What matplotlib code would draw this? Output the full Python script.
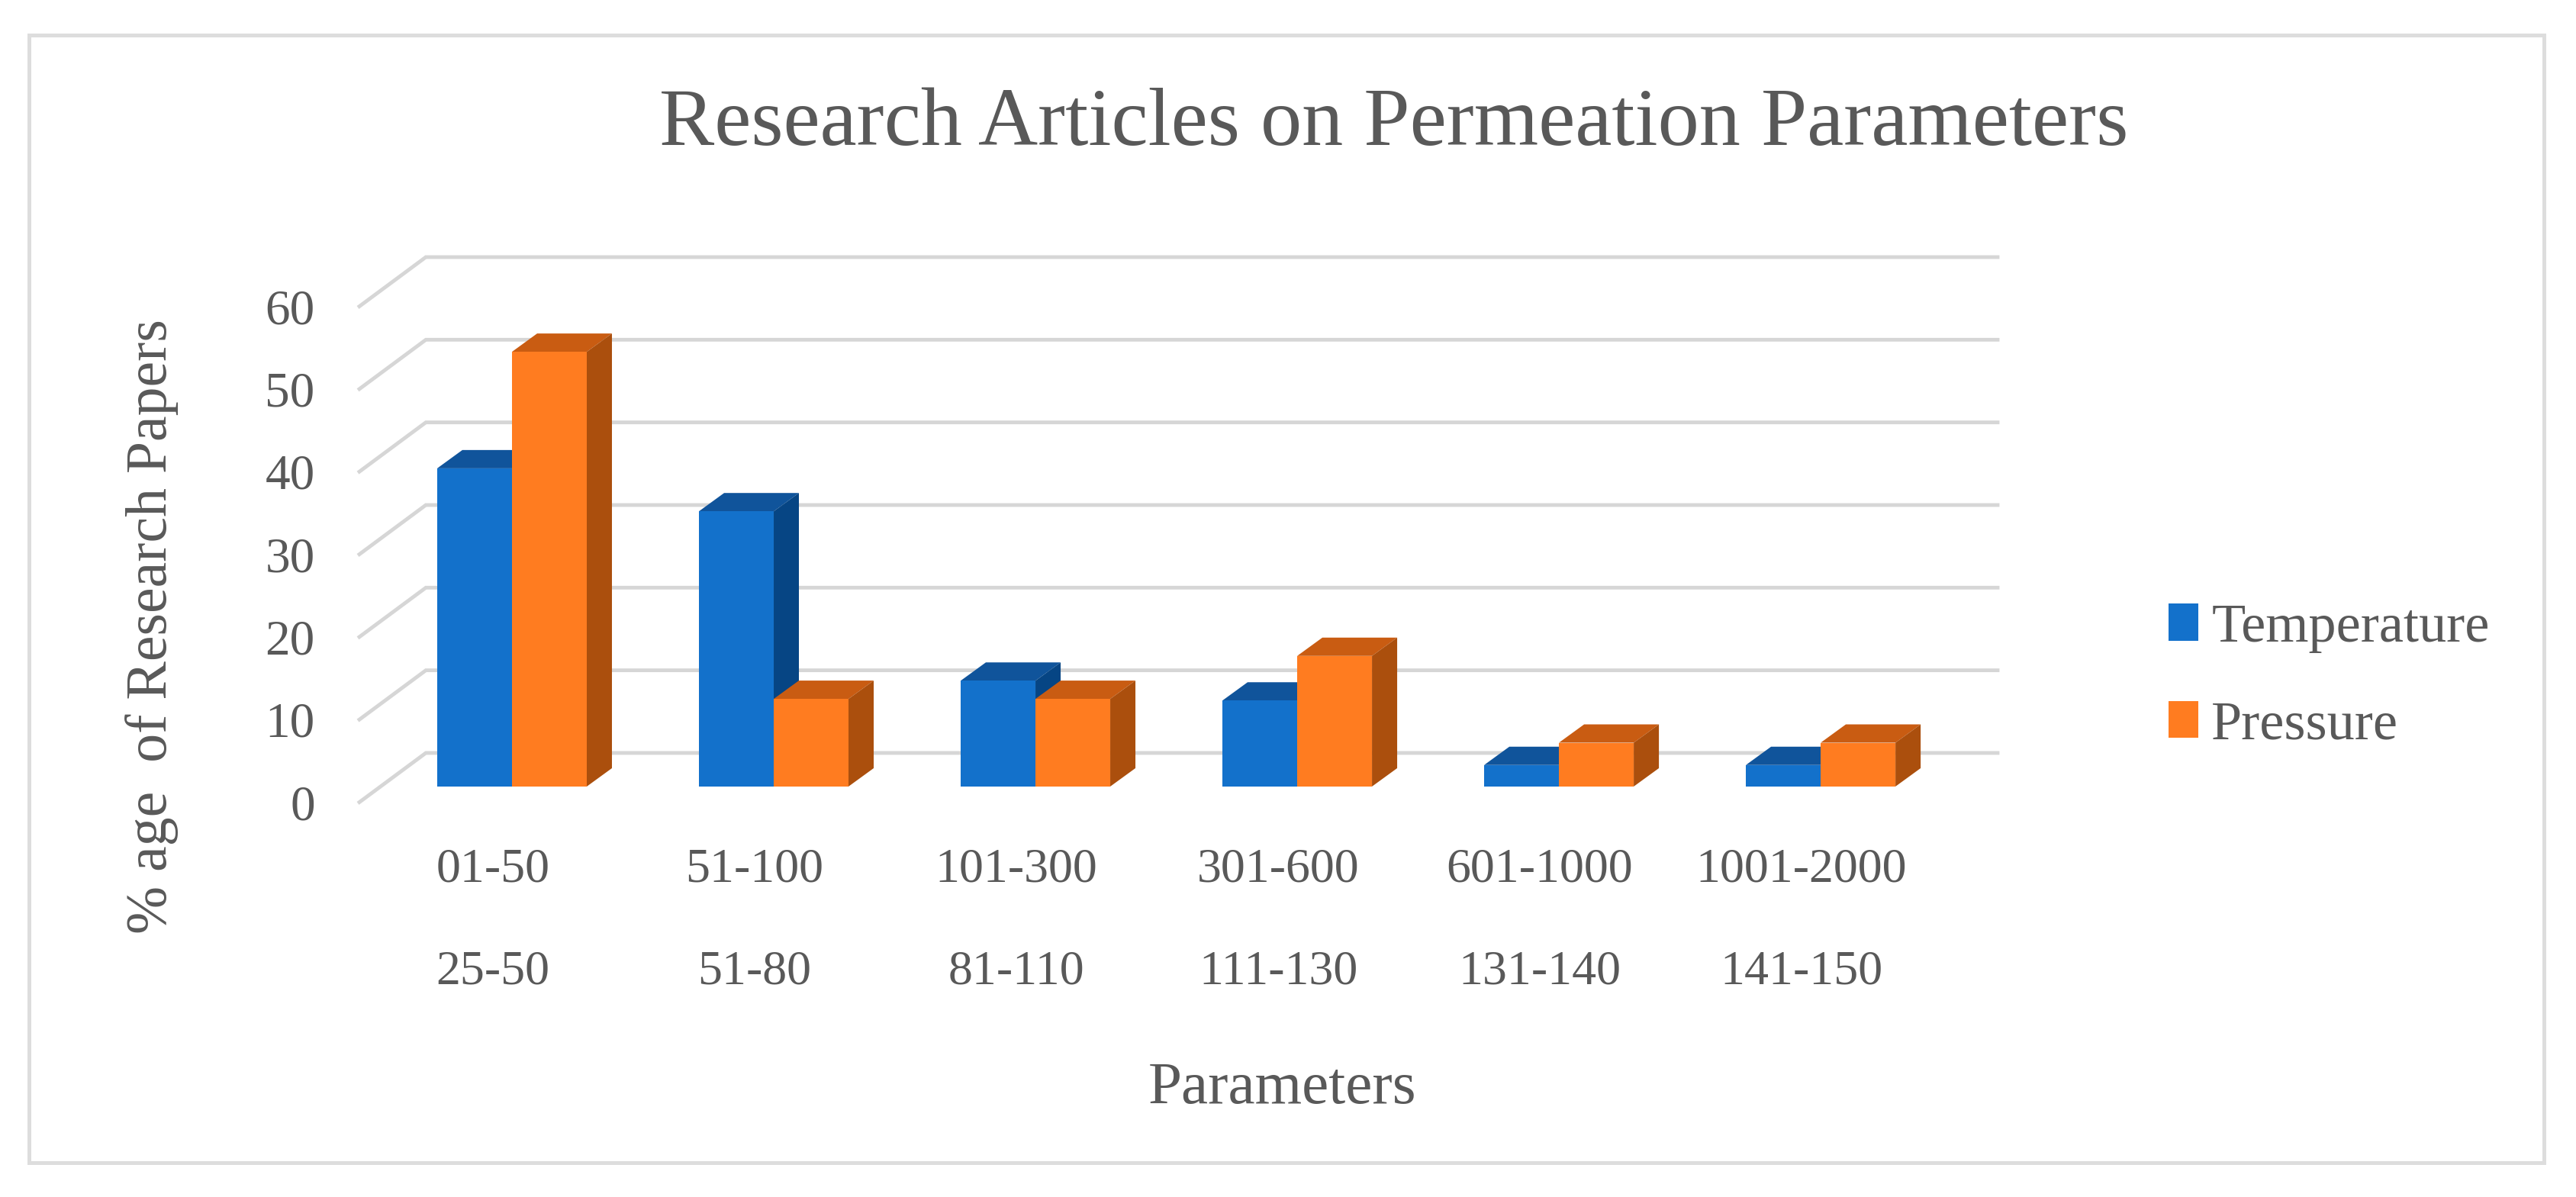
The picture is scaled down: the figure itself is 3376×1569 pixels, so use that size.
import matplotlib
matplotlib.use("Agg")
import matplotlib.pyplot as plt
from matplotlib.patches import Polygon, Rectangle
import numpy as np

plt.rcParams['font.family'] = ['Liberation Serif', 'DejaVu Serif']

# data
temp_ranges = ["01-50", "51-100", "101-300", "301-600", "601-1000", "1001-2000"]
pressure_ranges = ["25-50", "51-80", "81-110", "111-130", "131-140", "141-150"]
temperature = [38.5, 33.3, 12.8, 10.4, 2.6, 2.6]
pressure = [52.6, 10.6, 10.6, 15.8, 5.3, 5.3]
y_ticks = [0, 10, 20, 30, 40, 50, 60]

W, H = 3376, 1569
TEXT = "#595959"
GRID = "#d6d6d6"
BLUE, BLUE_TOP, BLUE_SIDE = "#1371cb", "#10549b", "#064584"
ORANGE, ORANGE_TOP, ORANGE_SIDE = "#ff7c20", "#c95c12", "#ab4f0d"

bar_w = 0.2857
depth_x, depth_y = 0.0962, 2.216
floor_front = (-0.583, -1.9)
floor_back = (-0.329, 4.06)
x_right = 5.676

fig = plt.figure(figsize=(W / 100, H / 100), dpi=100)
fig.patches.append(Rectangle((38 / W, 1 - 1524 / H), (3334 - 38) / W, (1524 - 46) / H,
                             transform=fig.transFigure, fc="none", ec="#dddddd", lw=3.6, zorder=-1))

ax = fig.add_axes([471 / W, 1 - 1051.5 / H, (2618 - 471) / W, (1051.5 - 337) / H])
ax.set_xlim(floor_front[0], x_right)
ax.set_ylim(floor_front[1], 60 + floor_back[1])
ax.patch.set_alpha(0)
for s in ax.spines.values():
    s.set_visible(False)

# back wall lines and the slanted part on the left
for v in y_ticks:
    ax.plot([floor_front[0], floor_back[0], x_right],
            [v + floor_front[1], v + floor_back[1], v + floor_back[1]],
            color=GRID, lw=3.5, zorder=1, clip_on=False, solid_joinstyle="miter")


def draw_bars(x, values, face, top, side, label):
    bars = ax.bar(x, values, bar_w, color=face, zorder=3, label=label)
    for xi, v in zip(x, values):
        left, right = xi - bar_w / 2, xi + bar_w / 2
        ax.add_patch(Polygon([(left, v), (left + depth_x, v + depth_y),
                              (right + depth_x, v + depth_y), (right, v)],
                             fc=top, ec="none", zorder=2))
        ax.add_patch(Polygon([(right, 0), (right + depth_x, depth_y),
                              (right + depth_x, v + depth_y), (right, v)],
                             fc=side, ec="none", zorder=2))
    return bars


pos = np.arange(len(temp_ranges))
draw_bars(pos - bar_w / 2, temperature, BLUE, BLUE_TOP, BLUE_SIDE, "Temperature")
draw_bars(pos + bar_w / 2, pressure, ORANGE, ORANGE_TOP, ORANGE_SIDE, "Pressure")

# tick labels sit at the front edge of the floor
ax.set_yticks([v + floor_front[1] for v in y_ticks], labels=[str(v) for v in y_ticks])
ax.tick_params(axis="y", length=0, pad=42, labelsize=47, labelcolor=TEXT)
ax.set_xticks([])

for i in pos:
    ax.annotate(temp_ranges[i], (i - 0.073, 0), xycoords=("data", "axes fraction"),
                xytext=(0, -(1141 - 1051.5) * 0.72), textcoords="offset points",
                ha="center", va="center", fontsize=46, color=TEXT)
    ax.annotate(pressure_ranges[i], (i - 0.073, 0), xycoords=("data", "axes fraction"),
                xytext=(0, -(1275 - 1051.5) * 0.72), textcoords="offset points",
                ha="center", va="center", fontsize=46, color=TEXT)

fig.text(1827 / W, 1 - 164 / H, "Research Articles on Permeation Parameters",
         ha="center", va="center", fontsize=78, color=TEXT)
fig.text(199 / W, 1 - 821 / H, "% age  of Research Papers", rotation=90,
         ha="center", va="center", fontsize=54.5, color=TEXT)
fig.text(1681 / W, 1 - 1427 / H, "Parameters",
         ha="center", va="center", fontsize=57, color=TEXT)

ax.legend(loc="center left", bbox_to_anchor=(2842 / W, 1 - 887 / H),
          bbox_transform=fig.transFigure, frameon=False, fontsize=52,
          labelcolor=TEXT, handlelength=0.54, handleheight=0.65,
          handletextpad=0.24, labelspacing=0.86, borderpad=0, borderaxespad=0)

fig.savefig("out.png", dpi=100)
